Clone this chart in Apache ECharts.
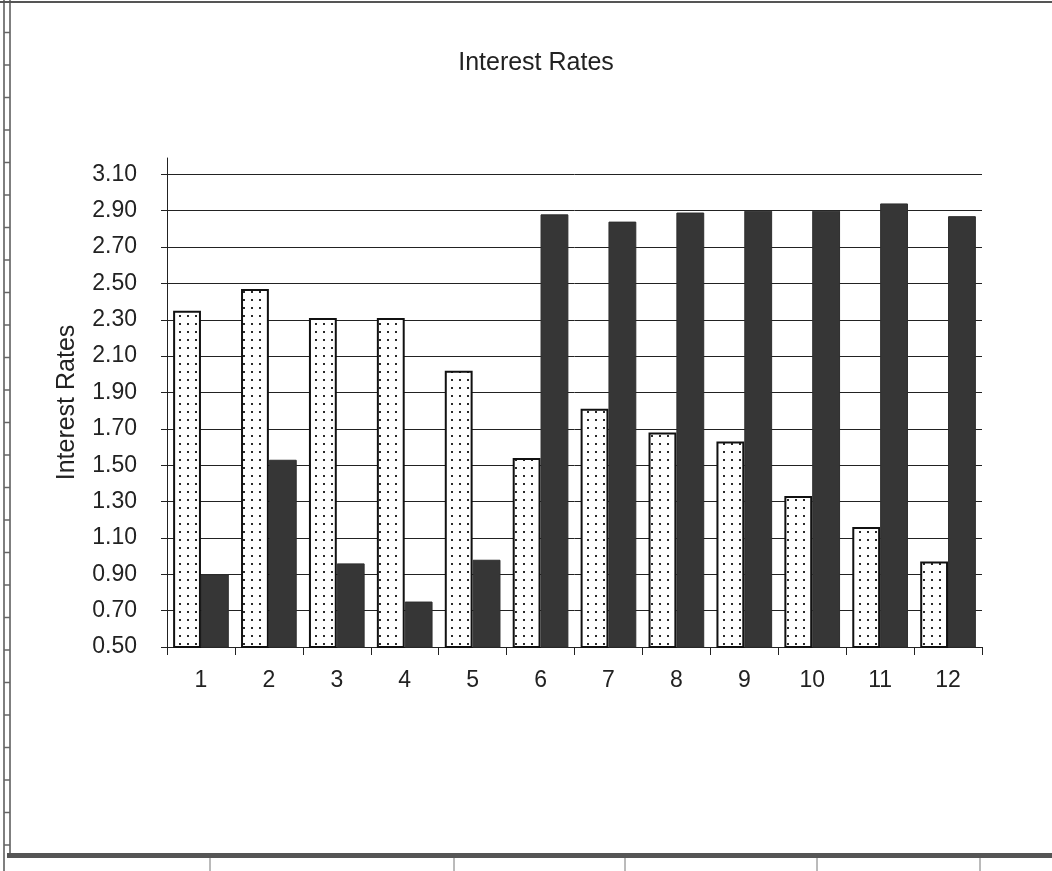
<!DOCTYPE html>
<html>
<head>
<meta charset="utf-8">
<title>Interest Rates</title>
<script src="https://cdn.jsdelivr.net/npm/echarts@6/dist/echarts.min.js"></script>
<style>
  html, body { margin: 0; padding: 0; background: #ffffff; }
  #chart { width: 1052px; height: 871px; }
</style>
</head>
<body>
<div id="chart"></div>
<script>
// Periods along the category axis
const periods = ['1', '2', '3', '4', '5', '6', '7', '8', '9', '10', '11', '12'];
// First rate series (dotted bars)
const rateA = [2.35, 2.47, 2.31, 2.31, 2.02, 1.54, 1.81, 1.68, 1.63, 1.33, 1.16, 0.97];
// Second rate series (dark bars)
const rateB = [0.90, 1.53, 0.96, 0.75, 0.98, 2.88, 2.84, 2.89, 2.90, 2.90, 2.94, 2.87];
// Value-axis tick labels
const yTickLabels = ['0.50', '0.70', '0.90', '1.10', '1.30', '1.50', '1.70', '1.90',
                     '2.10', '2.30', '2.50', '2.70', '2.90', '3.10'];

const FONT = '"Liberation Sans", Arial, Helvetica, sans-serif';
const INK = '#222222';

// Dotted fill: white tile with a small dark dot
function dotPattern() {
  const c = document.createElement('canvas');
  c.width = 8; c.height = 8;
  const g = c.getContext('2d');
  g.fillStyle = '#ffffff';
  g.fillRect(0, 0, 8, 8);
  g.fillStyle = '#2a2a2a';
  g.fillRect(3, 3, 2, 2);
  return c;
}

// Sheet frame around the chart object
function frameGraphics() {
  const els = [];
  const line = (x1, y1, x2, y2, w, color) => els.push({
    type: 'line', silent: true,
    shape: { x1, y1, x2, y2 },
    style: { stroke: color, lineWidth: w }
  });
  line(0, 2, 1052, 2, 2, '#555');
  line(4, 0, 4, 871, 1.5, '#555');
  line(10, 0, 10, 857, 1.5, '#555');
  for (let y = 32.5; y < 850; y += 32.5) line(4, y, 10, y, 1.5, '#666');
  els.push({
    type: 'rect', silent: true,
    shape: { x: 7, y: 853, width: 1045, height: 5 },
    style: { fill: '#555' }
  });
  [210, 454, 625, 817, 980].forEach(x => line(x, 858, x, 871, 1, '#777'));
  return els;
}

const yTickValues = yTickLabels.map(Number);

const chart = echarts.init(document.getElementById('chart'), null, { renderer: 'canvas' });
chart.setOption({
  backgroundColor: '#ffffff',
  animation: false,
  title: {
    text: 'Interest Rates',
    left: 531,
    top: 46,
    textAlign: 'center',
    textStyle: { fontFamily: FONT, fontSize: 25, fontWeight: 'normal', color: INK }
  },
  graphic: frameGraphics(),
  grid: { left: 167, right: 70, top: 158, bottom: 224, containLabel: false },
  xAxis: {
    type: 'category',
    data: periods,
    boundaryGap: true,
    axisLine: { lineStyle: { color: INK, width: 1 } },
    axisTick: { show: true, length: 8, lineStyle: { color: INK } },
    axisLabel: { fontFamily: FONT, fontSize: 23, color: INK, margin: 22 },
    splitLine: { show: false }
  },
  yAxis: {
    type: 'value',
    min: 0.5,
    max: 3.19,
    interval: 0.2,
    name: 'Interest Rates',
    nameLocation: 'middle',
    nameGap: 87,
    nameTextStyle: { fontFamily: FONT, fontSize: 25, color: INK },
    axisLine: { show: true, lineStyle: { color: INK, width: 1 } },
    axisTick: { show: true, length: 6, customValues: yTickValues, lineStyle: { color: INK } },
    axisLabel: {
      fontFamily: FONT, fontSize: 23, color: INK, margin: 30,
      customValues: yTickValues,
      formatter: v => v.toFixed(2)
    },
    splitLine: {
      show: true, showMinLine: true, showMaxLine: true,
      lineStyle: { color: INK, width: 1 }
    }
  },
  series: [
    {
      name: 'Series A',
      type: 'bar',
      data: rateA,
      barGap: '0%',
      barCategoryGap: '18%',
      itemStyle: {
        color: { image: dotPattern(), repeat: 'repeat' },
        borderColor: '#111111',
        borderWidth: 2
      }
    },
    {
      name: 'Series B',
      type: 'bar',
      data: rateB,
      barGap: '0%',
      barCategoryGap: '18%',
      itemStyle: { color: '#363636', borderColor: '#2e2e2e', borderWidth: 1 }
    }
  ]
});
</script>
</body>
</html>
